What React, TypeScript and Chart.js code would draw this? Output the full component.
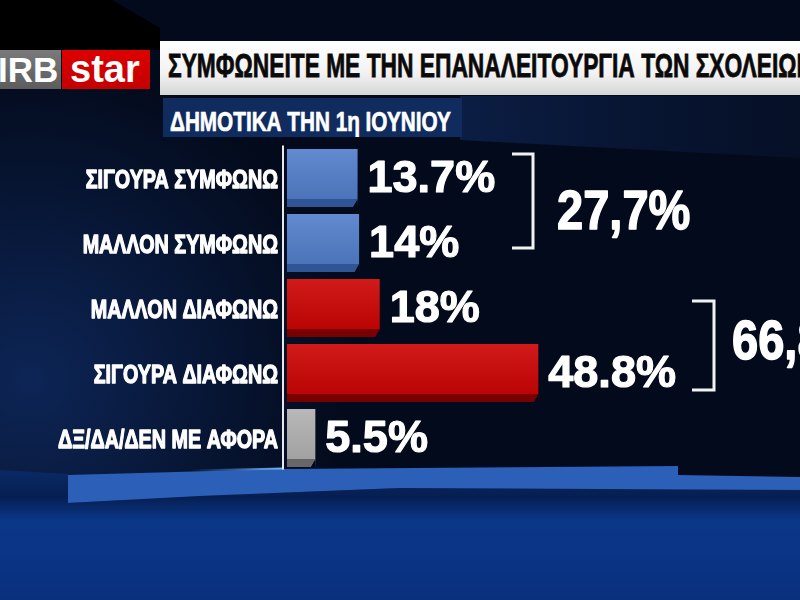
import React, { useEffect, useRef } from "react";
import { Chart, registerables } from "chart.js";

Chart.register(...registerables);

// ---------- data ----------
const categories = [
  "ΣΙΓΟΥΡΑ ΣΥΜΦΩΝΩ",
  "ΜΑΛΛΟΝ ΣΥΜΦΩΝΩ",
  "ΜΑΛΛΟΝ ΔΙΑΦΩΝΩ",
  "ΣΙΓΟΥΡΑ ΔΙΑΦΩΝΩ",
  "ΔΞ/ΔΑ/ΔΕΝ ΜΕ ΑΦΟΡΑ",
];
const values = [13.7, 14, 18, 48.8, 5.5];
const valueLabels = ["13.7%", "14%", "18%", "48.8%", "5.5%"];
const groupTotals = ["27,7%", "66,8%"];
const groupMembers = [
  [0, 1],
  [2, 3],
];
const titleText = "ΣΥΜΦΩΝΕΙΤΕ ΜΕ ΤΗΝ ΕΠΑΝΑΛΕΙΤΟΥΡΓΙΑ ΤΩΝ ΣΧΟΛΕΙΩΝ";
const subtitleText = "ΔΗΜΟΤΙΚΑ ΤΗΝ 1η ΙΟΥΝΙΟΥ";
const logoLeft = "IRB";
const logoRight = "star";
const xMax = 90;

// ---------- styles ----------
const faceColors = ["#4f7dca", "#4f7dca", "#cc0000", "#cc0000", "#b0b0b0"];
const bevelColors = ["#2f5597", "#2f5597", "#780000", "#780000", "#676767"];
const FONT = "'Liberation Sans', Arial, Helvetica, sans-serif";
const BG = "#030a1b";

const bgPlugin = {
  id: "bgPlugin",
  beforeDraw(chart: any) {
    const ctx: CanvasRenderingContext2D = chart.ctx;
    const W = chart.width;
    const H = chart.height;
    ctx.save();
    ctx.fillStyle = BG;
    ctx.fillRect(0, 0, W, H);

    // left bluish glow
    let g = ctx.createRadialGradient(30, 380, 10, 30, 380, 320);
    g.addColorStop(0, "rgba(22,62,140,0.5)");
    g.addColorStop(1, "rgba(22,62,140,0)");
    ctx.fillStyle = g;
    ctx.fillRect(0, 60, 420, 440);

    // faint band continuing right of the subtitle
    g = ctx.createLinearGradient(460, 0, 800, 0);
    g.addColorStop(0, "rgba(14,36,82,0.75)");
    g.addColorStop(1, "rgba(8,22,52,0.45)");
    ctx.fillStyle = g;
    ctx.beginPath();
    ctx.moveTo(460, 96);
    ctx.lineTo(800, 96);
    ctx.lineTo(800, 158);
    ctx.lineTo(460, 140);
    ctx.closePath();
    ctx.fill();

    // top-left black corner
    ctx.fillStyle = "#000000";
    ctx.beginPath();
    ctx.moveTo(0, 0);
    ctx.lineTo(112, 0);
    ctx.lineTo(160, 28);
    ctx.lineTo(160, 50);
    ctx.lineTo(0, 50);
    ctx.closePath();
    ctx.fill();

    // floor
    g = ctx.createLinearGradient(0, 468, 0, 600);
    g.addColorStop(0, "#0a2a66");
    g.addColorStop(0.22, "#061f52");
    g.addColorStop(0.4, "#0b3789");
    g.addColorStop(0.75, "#0a3384");
    g.addColorStop(1, "#09307c");
    ctx.fillStyle = g;
    ctx.beginPath();
    ctx.moveTo(0, 470);
    ctx.lineTo(68, 474);
    ctx.lineTo(68, 503);
    ctx.lineTo(200, 496);
    ctx.lineTo(400, 488);
    ctx.lineTo(800, 489);
    ctx.lineTo(800, 600);
    ctx.lineTo(0, 600);
    ctx.closePath();
    ctx.fill();

    // light strip
    ctx.fillStyle = "#2b5fb8";
    ctx.beginPath();
    ctx.moveTo(68, 475);
    ctx.lineTo(283, 469);
    ctx.lineTo(678, 466);
    ctx.lineTo(678, 475);
    ctx.lineTo(800, 477);
    ctx.lineTo(800, 490);
    ctx.lineTo(400, 488);
    ctx.lineTo(200, 496);
    ctx.lineTo(68, 503);
    ctx.closePath();
    ctx.fill();

    // glow line at axis foot
    const gl = ctx.createLinearGradient(190, 0, 284, 0);
    gl.addColorStop(0, "rgba(90,160,255,0)");
    gl.addColorStop(1, "rgba(120,185,255,1)");
    ctx.strokeStyle = gl;
    ctx.lineWidth = 2;
    ctx.beginPath();
    ctx.moveTo(190, 470.5);
    ctx.lineTo(284, 468.5);
    ctx.stroke();
    ctx.restore();
  },
};

function boldText(ctx: CanvasRenderingContext2D, s: string, x: number, y: number, w: number) {
  ctx.fillText(s, x, y);
  ctx.lineWidth = w;
  ctx.strokeStyle = ctx.fillStyle as string;
  ctx.lineJoin = "round";
  ctx.strokeText(s, x, y);
}

const decorPlugin = {
  id: "decorPlugin",
  afterDatasetsDraw(chart: any) {
    const ctx: CanvasRenderingContext2D = chart.ctx;
    const yScale = chart.scales.y;
    const meta = chart.getDatasetMeta(0);
    const area = chart.chartArea;
    ctx.save();

    // axis line
    ctx.strokeStyle = "#e6e8ee";
    ctx.lineWidth = 2;
    ctx.beginPath();
    ctx.moveTo(area.left - 4, area.top);
    ctx.lineTo(area.left - 4, area.bottom - 1);
    ctx.stroke();

    meta.data.forEach((bar: any, i: number) => {
      const { x, y, base, height } = bar.getProps(["x", "y", "base", "height"], true);
      const top = y - height / 2;
      const bottom = y + height / 2;
      // face shading
      const sg = ctx.createLinearGradient(0, top, 0, bottom);
      sg.addColorStop(0, "rgba(255,255,255,0.10)");
      sg.addColorStop(1, "rgba(0,0,0,0.10)");
      ctx.fillStyle = sg;
      ctx.fillRect(base, top, x - base, height - 8);
      // bevel
      ctx.fillStyle = bevelColors[i];
      ctx.beginPath();
      ctx.moveTo(base, bottom - 8);
      ctx.lineTo(x, bottom - 8);
      ctx.lineTo(x - 5, bottom);
      ctx.lineTo(base, bottom);
      ctx.closePath();
      ctx.fill();
      ctx.fillStyle = BG;
      ctx.beginPath();
      ctx.moveTo(x, bottom - 8);
      ctx.lineTo(x + 0.5, bottom + 0.5);
      ctx.lineTo(x - 5, bottom + 0.5);
      ctx.closePath();
      ctx.fill();

      // value label
      ctx.fillStyle = "#ffffff";
      ctx.font = `bold 45px ${FONT}`;
      ctx.textAlign = "left";
      ctx.textBaseline = "alphabetic";
      boldText(ctx, valueLabels[i], x + 10, y + 13.5, 1.2);
    });

    // category labels (condensed)
    chart.data.labels.forEach((lab: string, i: number) => {
      const yy = yScale.getPixelForValue(i);
      ctx.save();
      ctx.translate(area.left - 9, yy + 9.5);
      ctx.scale(0.76, 1);
      ctx.fillStyle = "#ffffff";
      ctx.font = `bold 26px ${FONT}`;
      ctx.textAlign = "right";
      ctx.textBaseline = "alphabetic";
      boldText(ctx, lab, 0, 0, 1.3);
      ctx.restore();
    });

    // brackets + totals
    const brackets = [
      { x0: 512, x1: 533, dTop: -24, dBot: 5, tx: 557 },
      { x0: 692, x1: 714, dTop: -7, dBot: 17, tx: 732 },
    ];
    groupMembers.forEach((grp, gi) => {
      const b = brackets[gi];
      const yA = yScale.getPixelForValue(grp[0]);
      const yB = yScale.getPixelForValue(grp[grp.length - 1]);
      const t = yA + b.dTop;
      const bt = yB + b.dBot;
      ctx.strokeStyle = "#f2f2f2";
      ctx.lineWidth = 3;
      ctx.lineJoin = "miter";
      ctx.beginPath();
      ctx.moveTo(b.x0, t);
      ctx.lineTo(b.x1, t);
      ctx.lineTo(b.x1, bt);
      ctx.lineTo(b.x0, bt);
      ctx.stroke();
      const mid = (yA + yB) / 2;
      ctx.save();
      ctx.translate(b.tx, mid - 2 + 20);
      ctx.scale(0.84, 1);
      ctx.fillStyle = "#ffffff";
      ctx.font = `bold 56px ${FONT}`;
      ctx.textAlign = "left";
      ctx.textBaseline = "alphabetic";
      boldText(ctx, groupTotals[gi], 0, 0, 1.5);
      ctx.restore();
    });

    ctx.restore();
  },
};

export default function App() {
  const ref = useRef<HTMLCanvasElement | null>(null);

  useEffect(() => {
    if (!ref.current) return;
    const chart = new Chart(ref.current, {
      type: "bar",
      data: {
        labels: categories,
        datasets: [
          {
            data: values,
            backgroundColor: faceColors,
            borderWidth: 0,
            barPercentage: 0.892,
            categoryPercentage: 1,
          },
        ],
      },
      options: {
        indexAxis: "y",
        responsive: false,
        animation: false,
        devicePixelRatio: 1,
        layout: { padding: { left: 0, right: 49.5, top: 145.5, bottom: 129.5 } },
        plugins: {
          legend: { display: false },
          tooltip: { enabled: false },
          title: { display: false },
        },
        scales: {
          x: { display: false, min: 0, max: xMax },
          y: {
            display: true,
            grid: { display: false },
            border: { display: false },
            ticks: { display: false },
            afterFit: (s: any) => {
              s.width = 287;
            },
          },
        },
      } as any,
      plugins: [bgPlugin, decorPlugin],
    });
    return () => chart.destroy();
  }, []);

  const textBase: React.CSSProperties = {
    position: "absolute",
    whiteSpace: "nowrap",
    fontFamily: FONT,
    fontWeight: "bold",
    transformOrigin: "0 0",
  };

  return (
    <div
      style={{
        position: "fixed",
        left: 0,
        top: 0,
        width: 800,
        height: 600,
        overflow: "hidden",
        background: BG,
      }}
    >
      <canvas
        ref={ref}
        width={800}
        height={600}
        style={{ position: "absolute", left: 0, top: 0, width: 800, height: 600 }}
      />
      {/* logo */}
      <div
        style={{
          position: "absolute",
          left: 0,
          top: 50,
          width: 61,
          height: 39,
          background: "linear-gradient(#7a7a7a, #5c5c5c)",
          overflow: "hidden",
        }}
      >
        <div style={{ ...textBase, left: -2, top: 2.4, fontSize: 35, lineHeight: "35px", color: "#ffffff" }}>
          {logoLeft}
        </div>
      </div>
      <div
        style={{
          position: "absolute",
          left: 62,
          top: 50,
          width: 88,
          height: 39,
          background: "linear-gradient(#dd0000, #c40000)",
          overflow: "hidden",
        }}
      >
        <div style={{ ...textBase, left: 8, top: -0.2, fontSize: 38, lineHeight: "38px", color: "#ffffff" }}>
          {logoRight}
        </div>
      </div>
      {/* title */}
      <div
        style={{
          position: "absolute",
          left: 160,
          top: 41,
          width: 640,
          height: 54,
          background: "linear-gradient(#ffffff 0%, #f2f2f2 60%, #d6d6d6 100%)",
          overflow: "hidden",
        }}
      >
        <div
          style={{
            ...textBase,
            left: 8,
            top: 8.1,
            fontSize: 33,
            lineHeight: "33px",
            color: "#0a0a0a",
            transform: "scaleX(0.69)",
            WebkitTextStroke: "0.8px #0a0a0a",
          }}
        >
          {titleText}
        </div>
      </div>
      {/* subtitle */}
      <div
        style={{
          position: "absolute",
          left: 163,
          top: 98,
          width: 299,
          height: 39,
          background: "#102b5e",
          overflow: "hidden",
        }}
      >
        <div
          style={{
            ...textBase,
            left: 7,
            top: 10.3,
            fontSize: 28,
            lineHeight: "28px",
            color: "#ffffff",
            transform: "scaleX(0.74)",
            WebkitTextStroke: "0.7px #ffffff",
          }}
        >
          {subtitleText}
        </div>
      </div>
    </div>
  );
}
